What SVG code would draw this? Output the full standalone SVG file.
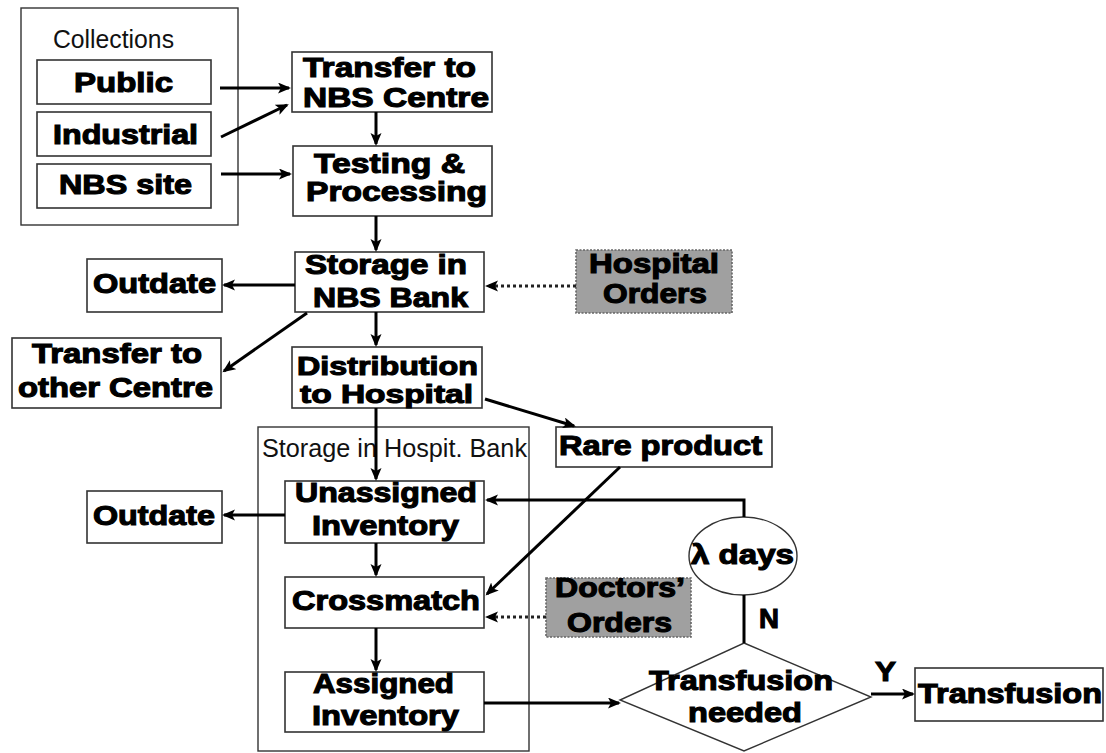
<svg xmlns="http://www.w3.org/2000/svg" width="1106" height="753" viewBox="0 0 1106 753">
<style>
.bx{fill:#fff;stroke:#333;stroke-width:1.6}
.gr{fill:#a0a0a0;stroke:#666;stroke-width:1.6;stroke-dasharray:2 1.5}
.sh{fill:#fff;stroke:#333;stroke-width:1.4}
.b{font-family:"Liberation Sans",Arial,sans-serif;font-weight:bold;font-size:27px;fill:#000;stroke:#000;stroke-width:1.1}
.s{font-size:25px}
.r{font-family:"Liberation Sans",Arial,sans-serif;font-size:25px;fill:#111}
.c{fill:none;stroke:#000;stroke-width:3}
.d{fill:none;stroke:#222;stroke-width:3;stroke-dasharray:3 3}
</style>
<defs>
<marker id="ah" markerUnits="userSpaceOnUse" markerWidth="14" markerHeight="12" refX="11" refY="5.5" orient="auto">
<path d="M0,0 L13,5.5 L0,11 L3,5.5 z" fill="#000"/>
</marker>
</defs>
<rect width="1106" height="753" fill="#fff"/>

<g id="collections">
<rect class="sh" x="21" y="8" width="217" height="217"/>
<text class="r" x="53" y="48" textLength="121" lengthAdjust="spacingAndGlyphs">Collections</text>
</g>
<g id="public"><rect class="bx" x="37" y="60" width="174" height="44"/>
<text class="b" x="74" y="92" textLength="99" lengthAdjust="spacingAndGlyphs">Public</text></g>
<g id="industrial"><rect class="bx" x="37" y="112" width="174" height="44"/>
<text class="b" x="53" y="144" textLength="145" lengthAdjust="spacingAndGlyphs">Industrial</text></g>
<g id="nbs-site"><rect class="bx" x="37" y="164" width="174" height="44"/>
<text class="b" x="59" y="194" textLength="133" lengthAdjust="spacingAndGlyphs">NBS site</text></g>

<g id="transfer-nbs"><rect class="bx" x="292" y="52" width="200" height="60"/>
<text class="b" x="303" y="77" textLength="173" lengthAdjust="spacingAndGlyphs">Transfer to</text>
<text class="b" x="303" y="107" textLength="186" lengthAdjust="spacingAndGlyphs">NBS Centre</text></g>

<g id="testing"><rect class="bx" x="293" y="146" width="199" height="70"/>
<text class="b" x="314" y="173" textLength="151" lengthAdjust="spacingAndGlyphs">Testing &amp;</text>
<text class="b" x="306" y="201" textLength="181" lengthAdjust="spacingAndGlyphs">Processing</text></g>

<g id="storage-nbs"><rect class="bx" x="295" y="252" width="189" height="60"/>
<text class="b" x="305" y="274" textLength="162" lengthAdjust="spacingAndGlyphs">Storage in</text>
<text class="b" x="313" y="307" textLength="155" lengthAdjust="spacingAndGlyphs">NBS Bank</text></g>

<g id="hospital-orders"><rect class="gr" x="576" y="250" width="156" height="63"/>
<text class="b" x="589" y="273" textLength="130" lengthAdjust="spacingAndGlyphs">Hospital</text>
<text class="b" x="603" y="303" textLength="104" lengthAdjust="spacingAndGlyphs">Orders</text></g>

<g id="outdate-1"><rect class="bx" x="87" y="259" width="135" height="53"/>
<text class="b" x="93" y="293" textLength="123" lengthAdjust="spacingAndGlyphs">Outdate</text></g>

<g id="transfer-other"><rect class="bx" x="12" y="338" width="209" height="70"/>
<text class="b" x="32" y="363" textLength="170" lengthAdjust="spacingAndGlyphs">Transfer to</text>
<text class="b" x="18" y="397" textLength="195" lengthAdjust="spacingAndGlyphs">other Centre</text></g>

<g id="distribution"><rect class="bx" x="292" y="347" width="190" height="61"/>
<text class="b s" x="297" y="375" textLength="181" lengthAdjust="spacingAndGlyphs">Distribution</text>
<text class="b s" x="300" y="403" textLength="173" lengthAdjust="spacingAndGlyphs">to Hospital</text></g>

<g id="rare-product"><rect class="bx" x="556" y="427" width="216" height="40"/>
<text class="b" x="559" y="455" textLength="203" lengthAdjust="spacingAndGlyphs">Rare product</text></g>

<g id="hospital-bank">
<rect class="sh" x="258" y="427" width="271" height="324" style="fill:none"/>
<text class="r" x="262" y="457" textLength="265" lengthAdjust="spacingAndGlyphs">Storage in Hospit. Bank</text>
</g>

<g id="unassigned"><rect class="bx" x="285" y="481" width="199" height="62"/>
<text class="b" x="295" y="502" textLength="182" lengthAdjust="spacingAndGlyphs">Unassigned</text>
<text class="b" x="312" y="535" textLength="147" lengthAdjust="spacingAndGlyphs">Inventory</text></g>

<g id="outdate-2"><rect class="bx" x="87" y="491" width="135" height="52"/>
<text class="b" x="93" y="525" textLength="122" lengthAdjust="spacingAndGlyphs">Outdate</text></g>

<g id="crossmatch"><rect class="bx" x="285" y="577" width="199" height="51"/>
<text class="b" x="292" y="610" textLength="188" lengthAdjust="spacingAndGlyphs">Crossmatch</text></g>

<g id="doctors-orders"><rect class="gr" x="546" y="578" width="145" height="59"/>
<text class="b" x="555" y="597" textLength="130" lengthAdjust="spacingAndGlyphs">Doctors’</text>
<text class="b" x="567" y="632" textLength="105" lengthAdjust="spacingAndGlyphs">Orders</text></g>

<g id="assigned"><rect class="bx" x="285" y="672" width="199" height="60"/>
<text class="b" x="313" y="693" textLength="141" lengthAdjust="spacingAndGlyphs">Assigned</text>
<text class="b" x="312" y="725" textLength="147" lengthAdjust="spacingAndGlyphs">Inventory</text></g>

<g id="lambda-days"><ellipse class="sh" cx="743" cy="556" rx="54" ry="39"/>
<text class="b" x="691" y="564" textLength="103" lengthAdjust="spacingAndGlyphs">λ days</text></g>

<g id="transfusion-needed"><polygon class="sh" points="744,643 871,697 744,751 620,700"/>
<text class="b" x="649" y="690" textLength="184" lengthAdjust="spacingAndGlyphs">Transfusion</text>
<text class="b" x="688" y="722" textLength="114" lengthAdjust="spacingAndGlyphs">needed</text></g>

<g id="transfusion"><rect class="bx" x="915" y="668" width="188" height="53"/>
<text class="b" x="918" y="703" textLength="184" lengthAdjust="spacingAndGlyphs">Transfusion</text></g>

<g id="connectors">
<line class="c" x1="220" y1="88" x2="289" y2="88" marker-end="url(#ah)"/>
<line class="c" x1="221" y1="137" x2="287" y2="105" marker-end="url(#ah)"/>
<line class="c" x1="221" y1="174" x2="290" y2="174" marker-end="url(#ah)"/>
<line class="c" x1="376" y1="112" x2="376" y2="144" marker-end="url(#ah)"/>
<line class="c" x1="376" y1="216" x2="376" y2="250" marker-end="url(#ah)"/>
<line class="c" x1="295" y1="285" x2="224" y2="285" marker-end="url(#ah)"/>
<line class="d" x1="576" y1="286" x2="487" y2="286" marker-end="url(#ah)"/>
<line class="c" x1="307" y1="313" x2="224" y2="371" marker-end="url(#ah)"/>
<line class="c" x1="376" y1="312" x2="376" y2="345" marker-end="url(#ah)"/>
<line class="c" x1="485" y1="399" x2="574" y2="426" marker-end="url(#ah)"/>
<line class="c" x1="376" y1="408" x2="376" y2="479" marker-end="url(#ah)"/>
<line class="c" x1="285" y1="515" x2="224" y2="515" marker-end="url(#ah)"/>
<line class="c" x1="376" y1="543" x2="376" y2="575" marker-end="url(#ah)"/>
<line class="c" x1="620" y1="467" x2="487" y2="594" marker-end="url(#ah)"/>
<line class="d" x1="546" y1="617" x2="487" y2="617" marker-end="url(#ah)"/>
<line class="c" x1="376" y1="628" x2="376" y2="670" marker-end="url(#ah)"/>
<polyline class="c" points="744,517 744,500 487,500" marker-end="url(#ah)"/>
<line class="c" x1="744" y1="595" x2="744" y2="643"/>
<line class="c" x1="484" y1="703" x2="619" y2="703" marker-end="url(#ah)"/>
<line class="c" x1="871" y1="694" x2="913" y2="694" marker-end="url(#ah)"/>
<text class="b" x="759" y="628" textLength="20" lengthAdjust="spacingAndGlyphs">N</text>
<text class="b" x="875" y="681" textLength="21" lengthAdjust="spacingAndGlyphs">Y</text>
</g>
</svg>
